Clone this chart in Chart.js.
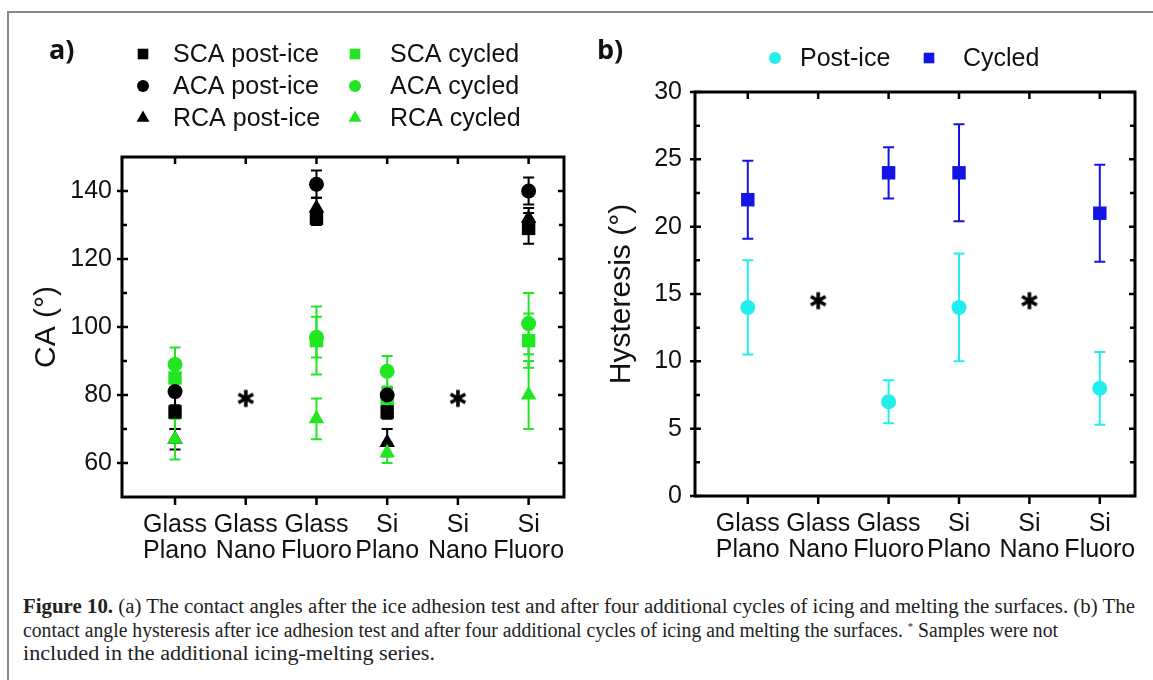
<!DOCTYPE html>
<html>
<head>
<meta charset="utf-8">
<script src="https://cdn.jsdelivr.net/npm/chart.js@4.4.1/dist/chart.umd.min.js"></script>
<style>
  body { margin: 0; width: 1153px; height: 680px; overflow: hidden; background: #fff;
         font-family: "Liberation Sans", Arial, sans-serif; color: #111; }
  #frame { position: absolute; left: 7px; top: 11px; width: 1200px; height: 700px; border: 2px solid #8a8a8a; }
  canvas { position: absolute; top: 0; }
  #chartA { left: 0; }
  #chartB { left: 580px; }
  .panel { position: absolute; font-family: "Open Sans", "Liberation Sans", sans-serif; font-weight: bold; font-size: 27px; }
  #caption { position: absolute; left: 23px; top: 595px; font-family: "Liberation Serif", serif; font-size: 20.5px; line-height: 23.5px; color: #222; }
  #caption .ln { white-space: nowrap; height: 23.5px; }
  #caption .ln span { display: inline-block; transform-origin: 0 50%; }
  #caption sup { font-size: 11px; line-height: 0; vertical-align: 7px; }
</style>
</head>
<body>
<div id="frame"></div>
<canvas id="chartA" width="580" height="580"></canvas>
<canvas id="chartB" width="573" height="580"></canvas>
<div class="panel" style="left:49px; top:30px;">a)</div>
<div class="panel" style="left:597px; top:30px;">b)</div>
<div id="caption">
  <div class="ln" data-w="1112"><span><b>Figure 10.</b> (a) The contact angles after the ice adhesion test and after four additional cycles of icing and melting the surfaces. (b) The</span></div>
  <div class="ln" data-w="1035"><span>contact angle hysteresis after ice adhesion test and after four additional cycles of icing and melting the surfaces. <sup>*</sup> Samples were not</span></div>
  <div class="ln" data-w="412"><span>included in the additional icing-melting series.</span></div>
</div>
<script>
// samples on the x axis
const categories = [['Glass', 'Plano'], ['Glass', 'Nano'], ['Glass', 'Fluoro'], ['Si', 'Plano'], ['Si', 'Nano'], ['Si', 'Fluoro']];
const catIndex = [0, 1, 2, 3, 4, 5];

// (a) contact angles in degrees, null = sample not measured
const scaPostIce = [75, null, 132, 75, null, 129];
const scaPostIceErr = [5, null, 2, 2, null, 4.5];
const acaPostIce = [81, null, 142, 80, null, 140];
const acaPostIceErr = [4, null, 4, 2, null, 4];
const rcaPostIce = [67, null, 135, 66, null, 132];
const rcaPostIceErr = [3, null, 3, 4, null, 3];
const scaCycled = [85, null, 96, 79, null, 96];
const scaCycledErr = [3, null, 10, 3, null, 8];
const acaCycled = [89, null, 97, 87, null, 101];
const acaCycledErr = [5, null, 6, 4.5, null, 9];
const rcaCycled = [67, null, 73, 63, null, 80];
const rcaCycledErr = [6, null, 6, 3, null, 10];
const notCycledA = [null, 79, null, null, 79, null];

// (b) hysteresis in degrees
const hystPostIce = [14, null, 7, 14, null, 8];
const hystPostIceErr = [3.5, null, 1.6, 4, null, 2.7];
const hystCycled = [22, null, 24, 24, null, 21];
const hystCycledErr = [2.9, null, 1.9, 3.6, null, 3.6];
const notCycledB = [null, 14.5, null, null, 14.5, null];

// axis ticks
const ticksA = [60, 80, 100, 120, 140];
const minorA = [70, 90, 110, 130];
const ticksB = [0, 5, 10, 15, 20, 25, 30];
const minorB = [2.5, 7.5, 12.5, 17.5, 22.5, 27.5];

const BLACK = '#000000';
const GREEN = '#22e622';
const CYAN = '#22eeee';
const BLUE = '#1414e6';

function asterisk() {
  const c = document.createElement('canvas');
  c.width = 22; c.height = 22;
  const g = c.getContext('2d');
  g.strokeStyle = '#000';
  g.lineWidth = 3.6;
  [90, 30, 150].forEach(a => {
    const r = a * Math.PI / 180;
    g.beginPath();
    g.moveTo(11 - 8.5 * Math.cos(r), 11 - 8.5 * Math.sin(r));
    g.lineTo(11 + 8.5 * Math.cos(r), 11 + 8.5 * Math.sin(r));
    g.stroke();
  });
  return c;
}
const starMark = asterisk();

function pts(vals) {
  return vals.map((v, i) => ({ x: catIndex[i], y: v }));
}

function series(label, vals, err, color, style, radius, order, legend) {
  return {
    label: label, data: pts(vals), err: err, order: order, legend: legend,
    backgroundColor: color, borderColor: color, borderWidth: 0,
    pointStyle: style, pointRadius: radius, pointHoverRadius: radius
  };
}

const errorBars = {
  id: 'errorBars',
  beforeDatasetsDraw(chart) {
    const { ctx, scales: { x, y } } = chart;
    chart.data.datasets.forEach(ds => {
      if (!ds.err) return;
      ctx.save();
      ctx.strokeStyle = ds.borderColor;
      ctx.lineWidth = 2;
      ds.data.forEach((p, j) => {
        const e = ds.err[j];
        if (p.y == null || e == null) return;
        const px = x.getPixelForValue(p.x);
        const top = y.getPixelForValue(p.y + e);
        const bot = y.getPixelForValue(p.y - e);
        ctx.beginPath();
        ctx.moveTo(px, top); ctx.lineTo(px, bot);
        ctx.moveTo(px - 5.5, top); ctx.lineTo(px + 5.5, top);
        ctx.moveTo(px - 5.5, bot); ctx.lineTo(px + 5.5, bot);
        ctx.stroke();
      });
      ctx.restore();
    });
  }
};

const axesFrame = {
  id: 'axesFrame',
  afterDatasetsDraw(chart, args, opts) {
    const { ctx, chartArea: { left, right, top, bottom }, scales: { x, y } } = chart;
    ctx.save();
    ctx.strokeStyle = '#000';
    ctx.lineWidth = 3;
    ctx.strokeRect(left, top, right - left, bottom - top);
    ctx.lineWidth = 2.5;
    ctx.beginPath();
    opts.major.forEach(v => {
      const py = y.getPixelForValue(v);
      ctx.moveTo(left - 5, py); ctx.lineTo(left + 6, py);
      ctx.moveTo(right - 6, py); ctx.lineTo(right, py);
    });
    opts.minor.forEach(v => {
      const py = y.getPixelForValue(v);
      ctx.moveTo(left, py); ctx.lineTo(left + 5, py);
      ctx.moveTo(right - 5, py); ctx.lineTo(right, py);
    });
    catIndex.forEach(v => {
      const px = x.getPixelForValue(v);
      ctx.moveTo(px, top); ctx.lineTo(px, top + 7);
      ctx.moveTo(px, bottom); ctx.lineTo(px, bottom + 8);
    });
    ctx.stroke();
    ctx.restore();
  }
};

const gridLegend = {
  id: 'gridLegend',
  afterDraw(chart) {
    const ctx = chart.ctx;
    ctx.save();
    ctx.font = '25px "Liberation Sans", Arial, sans-serif';
    ctx.textBaseline = 'middle';
    chart.data.datasets.forEach(ds => {
      if (!ds.legend) return;
      const L = ds.legend;
      ctx.fillStyle = ds.backgroundColor;
      Chart.helpers.drawPoint(ctx, { pointStyle: ds.pointStyle, radius: L.r, rotation: 0, borderWidth: 0 }, L.mx, L.my);
      ctx.fillStyle = '#111';
      ctx.fillText(ds.label, L.tx, L.my + 1);
    });
    ctx.restore();
  }
};

function xScale(h) {
  return {
    type: 'linear', min: -0.75, max: 5.5,
    afterBuildTicks: s => { s.ticks = catIndex.map(v => ({ value: v })); },
    afterFit: s => { s.height = h; },
    grid: { display: false, drawTicks: false },
    border: { display: false },
    ticks: { color: '#111', font: { size: 25, lineHeight: 1.04 }, padding: 15, maxRotation: 0, autoSkip: false,
             callback: v => categories[v] }
  };
}

function yScale(min, max, ticks, w, pad, title, titlePad) {
  return {
    min: min, max: max,
    afterBuildTicks: s => { s.ticks = ticks.map(v => ({ value: v })); },
    afterFit: s => { s.width = w; },
    grid: { display: false, drawTicks: false },
    border: { display: false },
    ticks: { color: '#111', font: { size: 25 }, padding: pad },
    title: { display: true, text: title, color: '#111', font: { size: 30 }, padding: { top: titlePad, bottom: 0 } }
  };
}

Chart.defaults.font.family = '"Liberation Sans", Arial, sans-serif';
Chart.defaults.animation = false;

new Chart(document.getElementById('chartA'), {
  type: 'scatter',
  data: {
    datasets: [
      series('SCA post-ice', scaPostIce, scaPostIceErr, BLACK, 'rect', 9.5, 5, { mx: 143, my: 54, tx: 173, r: 7.5 }),
      series('ACA post-ice', acaPostIce, acaPostIceErr, BLACK, 'circle', 7.5, 1, { mx: 143, my: 86, tx: 173, r: 6 }),
      series('RCA post-ice', rcaPostIce, rcaPostIceErr, BLACK, 'triangle', 9, 4, { mx: 143, my: 118, tx: 173, r: 7.5 }),
      series('SCA cycled', scaCycled, scaCycledErr, GREEN, 'rect', 9.5, 6, { mx: 355, my: 54, tx: 390, r: 7.5 }),
      series('ACA cycled', acaCycled, acaCycledErr, GREEN, 'circle', 7.5, 2, { mx: 355, my: 86, tx: 390, r: 6 }),
      series('RCA cycled', rcaCycled, rcaCycledErr, GREEN, 'triangle', 9, 3, { mx: 355, my: 118, tx: 390, r: 7.5 }),
      { label: 'not cycled', data: pts(notCycledA), pointStyle: starMark, order: 0 }
    ]
  },
  options: {
    responsive: false,
    layout: { padding: { left: 0, right: 12, top: 157, bottom: 0 } },
    plugins: { legend: { display: false }, tooltip: { enabled: false },
               axesFrame: { major: ticksA, minor: minorA } },
    scales: {
      x: xScale(83),
      y: yScale(50, 150, ticksA, 122, 10, 'CA (°)', 29)
    }
  },
  plugins: [errorBars, axesFrame, gridLegend]
});

new Chart(document.getElementById('chartB'), {
  type: 'scatter',
  data: {
    datasets: [
      series('Post-ice', hystPostIce, hystPostIceErr, CYAN, 'circle', 7.5, 2, { mx: 195, my: 58, tx: 220, r: 6 }),
      series('Cycled', hystCycled, hystCycledErr, BLUE, 'rect', 9.5, 1, { mx: 349, my: 58, tx: 383, r: 7.5 }),
      { label: 'not cycled', data: pts(notCycledB), pointStyle: starMark, order: 0 }
    ]
  },
  options: {
    responsive: false,
    layout: { padding: { left: 0, right: 18, top: 92, bottom: 0 } },
    plugins: { legend: { display: false }, tooltip: { enabled: false },
               axesFrame: { major: ticksB, minor: minorB } },
    scales: {
      x: xScale(84),
      y: yScale(0, 30, ticksB, 115, 13, 'Hysteresis (°)', 24)
    }
  },
  plugins: [errorBars, axesFrame, gridLegend]
});

// squeeze the caption lines to the widths of the printed caption
document.querySelectorAll('#caption .ln').forEach(ln => {
  const span = ln.querySelector('span');
  const w = span.getBoundingClientRect().width;
  span.style.transform = 'scaleX(' + (Number(ln.dataset.w) / w) + ')';
});
</script>
</body>
</html>
